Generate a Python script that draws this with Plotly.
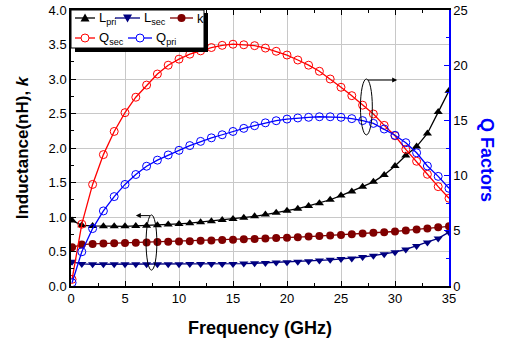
import plotly.graph_objects as go

freq = [0.1] + list(range(1, 36))

L_pri = [0.95, 0.88, 0.87, 0.865, 0.865, 0.865, 0.87, 0.875, 0.88, 0.89, 0.90,
         0.91, 0.925, 0.94, 0.955, 0.97, 0.99, 1.01, 1.035, 1.06, 1.09,
         1.12, 1.16, 1.20, 1.25, 1.31, 1.37, 1.44, 1.51, 1.61, 1.74,
         1.89, 2.02, 2.21, 2.52, 2.83]
L_sec = [0.35, 0.32, 0.315, 0.315, 0.315, 0.315, 0.315, 0.315, 0.315, 0.315, 0.315,
         0.32, 0.32, 0.32, 0.32, 0.32, 0.325, 0.33, 0.335, 0.34, 0.345,
         0.35, 0.36, 0.37, 0.38, 0.39, 0.40, 0.42, 0.44, 0.46, 0.49,
         0.53, 0.58, 0.63, 0.69, 0.78]
k_coef = [0.56, 0.60, 0.61, 0.615, 0.62, 0.625, 0.628, 0.632, 0.636, 0.64, 0.645,
          0.65, 0.655, 0.66, 0.665, 0.67, 0.676, 0.682, 0.688, 0.695, 0.70,
          0.708, 0.716, 0.724, 0.732, 0.74, 0.75, 0.76, 0.77, 0.78, 0.79,
          0.805, 0.82, 0.835, 0.85, 0.865]
Q_sec = [0.6, 5.6, 9.2, 11.9, 14.0, 15.7, 17.1, 18.2, 19.2, 20.0, 20.55,
         21.0, 21.3, 21.6, 21.8, 21.9, 21.85, 21.77, 21.55, 21.26, 20.92,
         20.47, 20.0, 19.45, 18.75, 18.0, 17.24, 16.38, 15.58, 14.55, 13.61,
         12.38, 11.3, 10.12, 9.0, 7.95]
Q_pri = [0.3, 3.1, 5.2, 6.8, 8.1, 9.2, 10.1, 10.85, 11.4, 11.87, 12.29,
         12.72, 13.1, 13.42, 13.7, 14.0, 14.28, 14.52, 14.78, 14.97, 15.12,
         15.22, 15.28, 15.33, 15.33, 15.28, 15.16, 14.98, 14.73, 14.22, 13.65,
         12.98, 12.07, 10.87, 9.93, 8.85]

series_names = ["L<sub>pri</sub>", "L<sub>sec</sub>", "k", "Q<sub>sec</sub>", "Q<sub>pri</sub>"]
series_colors = ["black", "#000080", "#800000", "#ff0000", "#0000ff"]

FONT = "Arial, Liberation Sans, sans-serif"
OFF = 0            # body margin removed via post_script
W, H = 510 - OFF, 345 - OFF
ML, MT = 71 - OFF, 10 - OFF
PW, PH = 378, 276


def PX(p):  # screen px -> paper x
    return (p - OFF - ML) / PW


def PY(p):  # screen px -> paper y
    return (OFF + MT + PH - p) / PH


fig = go.Figure()
fig.add_trace(go.Scatter(x=freq, y=L_pri, name=series_names[0], mode="lines+markers",
                         line=dict(color=series_colors[0], width=1.3),
                         marker=dict(symbol="triangle-up", size=8, color=series_colors[0])))
fig.add_trace(go.Scatter(x=freq, y=L_sec, name=series_names[1], mode="lines+markers",
                         line=dict(color=series_colors[1], width=1.3),
                         marker=dict(symbol="triangle-down", size=8, color=series_colors[1])))
fig.add_trace(go.Scatter(x=freq, y=k_coef, name=series_names[2], mode="lines+markers",
                         line=dict(color=series_colors[2], width=1.3),
                         marker=dict(symbol="circle", size=8, color=series_colors[2])))
fig.add_trace(go.Scatter(x=freq, y=Q_sec, name=series_names[3], mode="lines+markers", yaxis="y2",
                         line=dict(color=series_colors[3], width=1.3),
                         marker=dict(symbol="circle-open", size=8, color=series_colors[3],
                                     line=dict(width=1))))
fig.add_trace(go.Scatter(x=freq, y=Q_pri, name=series_names[4], mode="lines+markers", yaxis="y2",
                         line=dict(color=series_colors[4], width=1.3),
                         marker=dict(symbol="circle-open", size=8, color=series_colors[4],
                                     line=dict(width=1))))

# ellipses marking the curve groups
fig.add_shape(type="circle", xref="x", yref="y", x0=26.8, x1=27.9, y0=2.19, y1=3.0,
              line=dict(color="black", width=1))
fig.add_shape(type="circle", xref="x", yref="y", x0=6.95, x1=7.95, y0=0.23, y1=1.03,
              line=dict(color="black", width=1))
fig.add_annotation(x=30.2, y=2.985, ax=27.35, ay=2.985, xref="x", yref="y", axref="x", ayref="y",
                   text="", showarrow=True, arrowhead=2, arrowsize=1, arrowwidth=1, arrowcolor="black")
fig.add_annotation(x=6.0, y=1.02, ax=7.45, ay=1.02, xref="x", yref="y", axref="x", ayref="y",
                   text="", showarrow=True, arrowhead=2, arrowsize=1, arrowwidth=1, arrowcolor="black")

# ---- custom legend box (with shadow) ----
fig.add_shape(type="rect", xref="paper", yref="paper", x0=PX(75), x1=PX(208),
              y0=PY(52), y1=PY(13), line=dict(width=0), fillcolor="black", layer="above")
fig.add_shape(type="rect", xref="paper", yref="paper", x0=PX(71), x1=PX(204),
              y0=PY(48), y1=PY(10), line=dict(width=1, color="black"), fillcolor="white",
              layer="above")

# legend entries: (series index, line x0, line x1, text x, row y, symbol)
legend_layout = [
    (0, 75, 95, 97, 18, "tri-up"),
    (1, 115, 140, 142, 18, "tri-down"),
    (2, 170, 193, 195, 18, "dot"),
    (3, 75, 95, 97, 38, "ring"),
    (4, 128, 152, 154, 38, "ring"),
]
for idx, lx0, lx1, tx, ry, sym in legend_layout:
    col = series_colors[idx]
    fig.add_shape(type="line", xref="paper", yref="paper", x0=PX(lx0), x1=PX(lx1),
                  y0=PY(ry), y1=PY(ry), line=dict(color=col, width=1.3), layer="above")
    cx = (lx0 + lx1) / 2
    if sym == "tri-up":
        path = (f"M {PX(cx - 4.5)},{PY(ry + 3.5)} L {PX(cx + 4.5)},{PY(ry + 3.5)} "
                f"L {PX(cx)},{PY(ry - 4.5)} Z")
        fig.add_shape(type="path", xref="paper", yref="paper", path=path, fillcolor=col,
                      line=dict(width=0), layer="above")
    elif sym == "tri-down":
        path = (f"M {PX(cx - 4.5)},{PY(ry - 3.5)} L {PX(cx + 4.5)},{PY(ry - 3.5)} "
                f"L {PX(cx)},{PY(ry + 4.5)} Z")
        fig.add_shape(type="path", xref="paper", yref="paper", path=path, fillcolor=col,
                      line=dict(width=0), layer="above")
    elif sym == "dot":
        fig.add_shape(type="circle", xref="paper", yref="paper", x0=PX(cx - 4), x1=PX(cx + 4),
                      y0=PY(ry + 4), y1=PY(ry - 4), fillcolor=col, line=dict(width=0),
                      layer="above")
    else:
        fig.add_shape(type="circle", xref="paper", yref="paper", x0=PX(cx - 4), x1=PX(cx + 4),
                      y0=PY(ry + 4), y1=PY(ry - 4), fillcolor="white",
                      line=dict(width=1, color=col), layer="above")
    fig.add_annotation(x=PX(tx), y=PY(ry), xref="paper", yref="paper", text=series_names[idx],
                       showarrow=False, xanchor="left", yanchor="middle",
                       font=dict(family=FONT, size=13, color="black"))

fig.add_annotation(x=PX(487), y=PY(160), xref="paper", yref="paper", text="<b>Q Factors</b>",
                   showarrow=False, textangle=90, xanchor="center", yanchor="middle",
                   font=dict(family=FONT, size=18, color="#0000ff"))

fig.update_layout(
    width=W, height=H,
    margin=dict(l=ML, r=W - ML - PW, t=MT, b=H - MT - PH, autoexpand=False),
    paper_bgcolor="white", plot_bgcolor="white",
    font=dict(family=FONT, size=13, color="black"),
    showlegend=False,
    xaxis=dict(range=[0, 35], dtick=5, tick0=0, showgrid=True, gridcolor="#c8c8c8", gridwidth=1,
               ticks="inside", ticklen=5, tickcolor="black", showline=True, linecolor="black",
               linewidth=1.5, mirror="ticks", zeroline=False, automargin=False,
               minor=dict(dtick=2.5, ticks="inside", ticklen=3, tickcolor="black", showgrid=False),
               title=dict(text="<b>Frequency (GHz)</b>", font=dict(family=FONT, size=18), standoff=16)),
    yaxis=dict(range=[0, 4], dtick=0.5, tick0=0, tickformat=".1f", showgrid=True, gridcolor="#c8c8c8",
               gridwidth=1, ticks="inside", ticklen=5, tickcolor="black", showline=True,
               linecolor="black", linewidth=1.5, zeroline=False, automargin=False,
               ticklabeloverflow="allow",
               minor=dict(dtick=0.25, ticks="inside", ticklen=3, tickcolor="black", showgrid=False),
               title=dict(text="<b>Inductance(nH), <i>k</i></b>", font=dict(family=FONT, size=17),
                          standoff=16)),
    yaxis2=dict(range=[0, 25], dtick=5, tick0=0, overlaying="y", side="right", showgrid=False,
                ticks="inside", ticklen=5, tickcolor="#0000ff", showline=True, linecolor="#0000ff",
                linewidth=1.5, zeroline=False, automargin=False, ticklabeloverflow="allow",
                minor=dict(dtick=2.5, ticks="inside", ticklen=3, tickcolor="#0000ff"),
                tickfont=dict(color="black")),
)

fig.write_html("out.html", config={"displayModeBar": False},
               post_script="document.body.style.margin='0';")
